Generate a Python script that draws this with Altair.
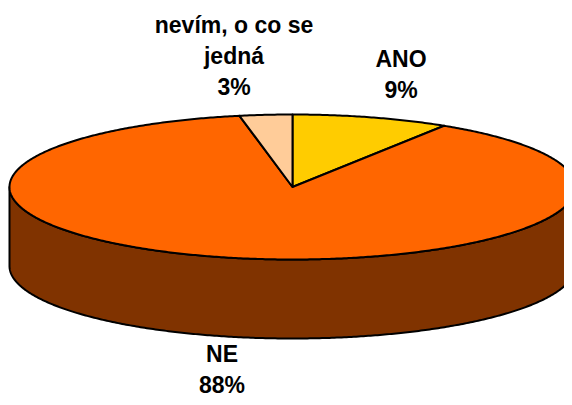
import math
import altair as alt
import pandas as pd

# ---- data ----
categories = ["ANO", "NE", "nevím, o co se jedná"]
percent = [9, 88, 3]
label_lines = [["ANO"], ["NE"], ["nevím, o co se", "jedná"]]
top_colors = ["#FFCC00", "#FF6600", "#FFCC99"]
side_colors = ["#806600", "#803300", "#806633"]

# ---- layout (pixel geometry of the 3D ellipse, page coordinates) ----
CX, CY, RX, RY, DEPTH = 292.5, 187.0, 283.0, 72.5, 79.0
label_anchor = {
    "ANO": (401, 67),
    "NE": (222, 362),
    "nevím, o co se jedná": (234, 33),
}


def pt(t_deg, dy=0.0):
    t = math.radians(t_deg)
    return [CX + RX * math.sin(t), CY - RY * math.cos(t) + dy]


def arc(a0, a1, dy=0.0):
    n = max(2, int(abs(a1 - a0) * 2) + 1)
    return [pt(a0 + (a1 - a0) * i / (n - 1), dy) for i in range(n)]


total = float(sum(percent))
sides, tops = [], []
start = 0.0
for cat, p, ct, cs in zip(categories, percent, top_colors, side_colors):
    a0 = start
    a1 = start + 360.0 * p / total
    start = a1
    ring = [[CX, CY]] + arc(a0, a1) + [[CX, CY]]
    tops.append({"type": "Feature",
                 "geometry": {"type": "Polygon", "coordinates": [ring]},
                 "properties": {"cat": cat, "color": ct}})
    s0, s1 = max(a0, 90.0), min(a1, 270.0)
    if s1 > s0:
        sring = arc(s0, s1) + arc(s1, s0, DEPTH)
        sring.append(sring[0])
        sides.append({"type": "Feature",
                      "geometry": {"type": "Polygon", "coordinates": [sring]},
                      "properties": {"cat": cat, "color": cs}})

side_layer = alt.Chart(alt.Data(values=sides)).mark_geoshape(
    stroke="black", strokeWidth=2, strokeJoin="round"
).encode(fill=alt.Color("properties.color:N", scale=None))

top_layer = alt.Chart(alt.Data(values=tops)).mark_geoshape(
    stroke="black", strokeWidth=2, strokeJoin="round"
).encode(fill=alt.Color("properties.color:N", scale=None))

labels = pd.DataFrame({
    "cat": categories,
    "lines": [ll + [f"{p}%"] for ll, p in zip(label_lines, percent)],
    "lon": [label_anchor[c][0] for c in categories],
    "lat": [label_anchor[c][1] for c in categories],
})

text_layer = alt.Chart(labels).mark_text(
    font="Liberation Sans", fontWeight="bold", fontSize=23, lineHeight=31,
    align="center", baseline="alphabetic", color="black"
).encode(longitude="lon:Q", latitude="lat:Q", text="lines")

chart = alt.layer(side_layer, top_layer, text_layer).project(
    type="identity", scale=1, translate=[-8, -8]
).properties(width=556, height=389, padding=0).configure_view(stroke=None)

chart.save("out.html", embed_options={"renderer": "svg", "actions": False})
